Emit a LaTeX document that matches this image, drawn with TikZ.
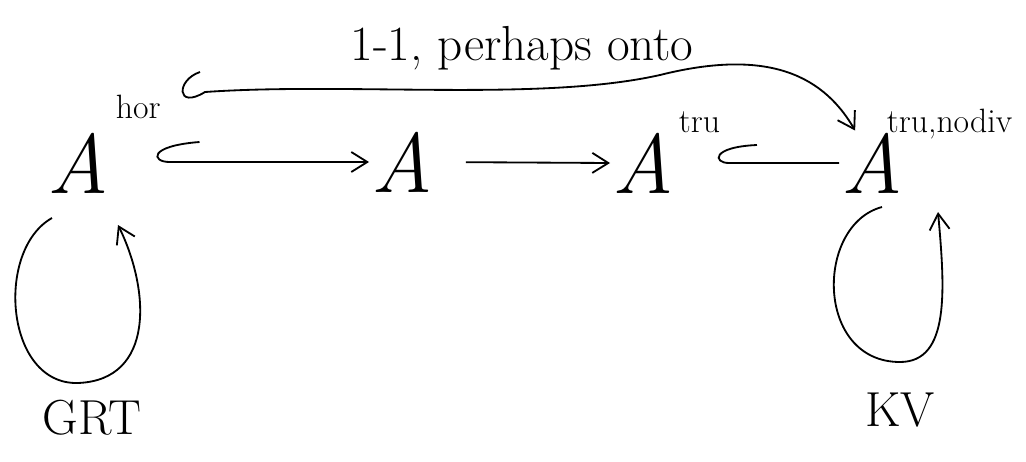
\documentclass[tikz,border=0pt]{standalone}
\usetikzlibrary{arrows.meta}

\begin{document}
\begin{tikzpicture}[x=0.025cm, y=-0.025cm, line width=1.3pt,
		obj/.style = {inner sep=1pt, font=\fontsize{60}{64}\selectfont\itshape},
		sup/.style = {inner sep=0pt, anchor=base west, font=\fontsize{24}{26}\selectfont},
		lab/.style = {inner sep=0pt, font=\fontsize{35}{38}\selectfont},
		tip/.style = {-{Straight Barb[length=4mm, width=5mm]}}]
	\useasboundingbox (0,0) rectangle (1026,461);
	% the four algebras
	\node[obj] (hor) at (78,163) {A};
	\node[sup] (horsup) at (115,118) {hor};
	\node[obj] (alg) at (402,162) {A};
	\node[obj] (tru) at (643,163) {A};
	\node[sup] (trusup) at (678,132) {tru};
	\node[obj] (nodiv) at (872,163) {A};
	\node[sup] (nodivsup) at (886,132) {tru,nodiv};
	% labels
	\node[lab] (onto) at (522,48) {1-1, perhaps onto};
	\node[lab] (grt) at (92,418) {GRT};
	\node[lab] (kv) at (900,410) {KV};
	\coordinate (h1) at (horsup.east |- alg.west);
	\coordinate (h2) at (trusup.east |- tru.east);
	\coordinate (topstart) at (205,92);
	% maps, each with a hook at its tail
	\draw[tip] ([shift={(38,-20)}]h1) .. controls ([shift={(-14,-16)}]h1) and ([shift={(-10,0)}]h1)
		.. ([shift={(8,0)}]h1) -- (alg.west);
	\draw[tip, shorten <=22pt] (alg.east) -- (tru.west);
	\draw ([shift={(36,-18)}]h2) .. controls ([shift={(-10,-16)}]h2) and ([shift={(-8,0)}]h2)
		.. ([shift={(8,0)}]h2) -- (nodiv.west);
	\draw[tip] (200,72) .. controls (176,80) and (176,110) .. (topstart)
		.. controls (350,82) and (540,102) .. (660,75)
		.. controls (760,50) and (820,70) .. ([xshift=-12pt]nodiv.north);
	% group actions
	\draw[tip] (52,218) .. controls (-5,250) and (5,385) .. (78,383)
		.. controls (155,380) and (150,290) .. (118,225);
	\draw[tip] (882,207) .. controls (815,225) and (815,362) .. (900,362)
		.. controls (950,362) and (945,290) .. (938,212);
\end{tikzpicture}
\end{document}
